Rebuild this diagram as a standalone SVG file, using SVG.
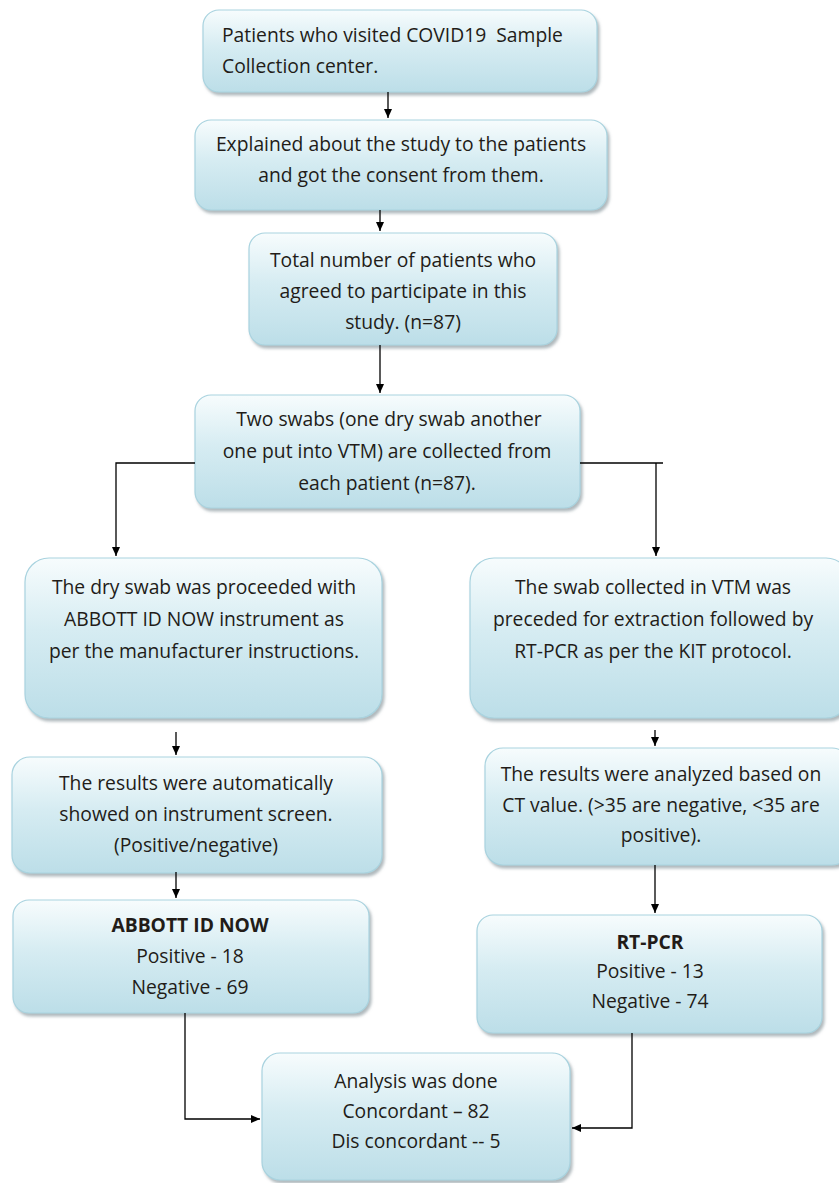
<svg xmlns="http://www.w3.org/2000/svg" width="839" height="1183" viewBox="0 0 839 1183">
<style>
.box{fill:url(#g);stroke:#a9d3df;stroke-width:1.2;filter:url(#sh)}
.t{font-family:"Open Sans","Noto Sans","Liberation Sans",sans-serif;font-size:19.3px;fill:#221c18;text-anchor:middle}
.l{text-anchor:start}
.b{font-weight:bold}
.c{fill:none;stroke:#000;stroke-width:1.3}
</style>
<defs>
<linearGradient id="g" x1="0" y1="0" x2="0" y2="1">
<stop offset="0" stop-color="#f7fcfd"/>
<stop offset="0.45" stop-color="#d6ecf2"/>
<stop offset="1" stop-color="#bcdee8"/>
</linearGradient>
<filter id="sh" x="-5%" y="-5%" width="110%" height="120%">
<feDropShadow dx="2" dy="3" stdDeviation="1.5" flood-color="#7a8a90" flood-opacity="0.6"/>
</filter>
<marker id="a" markerWidth="10" markerHeight="10" refX="9" refY="5" orient="auto" markerUnits="userSpaceOnUse">
<path d="M0,1 L9,5 L0,9 Z" fill="#000"/>
</marker>
</defs>
<g id="n1"><rect class="box" x="203" y="10" width="394" height="82" rx="16"/>
<text class="t l" x="222" y="42" style="white-space:pre">Patients who visited COVID19  Sample</text>
<text class="t l" x="222" y="73">Collection center.</text></g>
<g id="n2"><rect class="box" x="195" y="120" width="412" height="90" rx="16"/>
<text class="t" x="401" y="151">Explained about the study to the patients</text>
<text class="t" x="401" y="182">and got the consent from them.</text></g>
<g id="n3"><rect class="box" x="249" y="233" width="308" height="112" rx="16"/>
<text class="t" x="403" y="267">Total number of patients who</text>
<text class="t" x="403" y="298">agreed to participate in this</text>
<text class="t" x="403" y="329">study. (n=87)</text></g>
<g id="n4"><rect class="box" x="195" y="395" width="385" height="113" rx="16"/>
<text class="t" x="389" y="426">Two swabs (one dry swab another</text>
<text class="t" x="387" y="458">one put into VTM) are collected from</text>
<text class="t" x="387" y="490">each patient (n=87).</text></g>
<g id="n5"><rect class="box" x="25" y="558" width="357" height="160" rx="24"/>
<text class="t" x="204" y="594">The dry swab was proceeded with</text>
<text class="t" x="204" y="626">ABBOTT ID NOW instrument as</text>
<text class="t" x="204" y="658">per the manufacturer instructions.</text></g>
<g id="n6"><rect class="box" x="470" y="558" width="380" height="160" rx="24"/>
<text class="t" x="653" y="594">The swab collected in VTM was</text>
<text class="t" x="653" y="626">preceded for extraction followed by</text>
<text class="t" x="653" y="658">RT-PCR as per the KIT protocol.</text></g>
<g id="n7"><rect class="box" x="12" y="757" width="370" height="116" rx="18"/>
<text class="t" x="196" y="790">The results were automatically</text>
<text class="t" x="196" y="821">showed on instrument screen.</text>
<text class="t" x="196" y="852">(Positive/negative)</text></g>
<g id="n8"><rect class="box" x="13" y="900" width="356" height="113" rx="16"/>
<text class="t b" x="190" y="932">ABBOTT ID NOW</text>
<text class="t" x="190" y="963">Positive - 18</text>
<text class="t" x="190" y="994">Negative - 69</text></g>
<g id="n9"><rect class="box" x="485" y="748" width="365" height="117" rx="18"/>
<text class="t" x="661" y="781">The results were analyzed based on</text>
<text class="t" x="661" y="812">CT value. (&gt;35 are negative, &lt;35 are</text>
<text class="t" x="661" y="842">positive).</text></g>
<g id="n10"><rect class="box" x="477" y="915" width="345" height="118" rx="16"/>
<text class="t b" x="650" y="949">RT-PCR</text>
<text class="t" x="650" y="978">Positive - 13</text>
<text class="t" x="650" y="1008">Negative - 74</text></g>
<g id="n11"><rect class="box" x="262" y="1053" width="308" height="127" rx="18"/>
<text class="t" x="416" y="1088">Analysis was done</text>
<text class="t" x="416" y="1118">Concordant – 82</text>
<text class="t" x="416" y="1148">Dis concordant -- 5</text></g>
<g id="connectors">
<path class="c" d="M388,92 V118" marker-end="url(#a)"/>
<path class="c" d="M380,210 V231" marker-end="url(#a)"/>
<path class="c" d="M380,345 V393" marker-end="url(#a)"/>
<path class="c" d="M195,463 H116 V556" marker-end="url(#a)"/>
<path class="c" d="M580,463 H663"/>
<path class="c" d="M656,463 V556" marker-end="url(#a)"/>
<path class="c" d="M176,732 V755" marker-end="url(#a)"/>
<path class="c" d="M176,872 V898" marker-end="url(#a)"/>
<path class="c" d="M655,730 V746" marker-end="url(#a)"/>
<path class="c" d="M655,865 V913" marker-end="url(#a)"/>
<path class="c" d="M185,1013 V1119 H260" marker-end="url(#a)"/>
<path class="c" d="M632,1033 V1128 H572" marker-end="url(#a)"/>
</g>
</svg>
